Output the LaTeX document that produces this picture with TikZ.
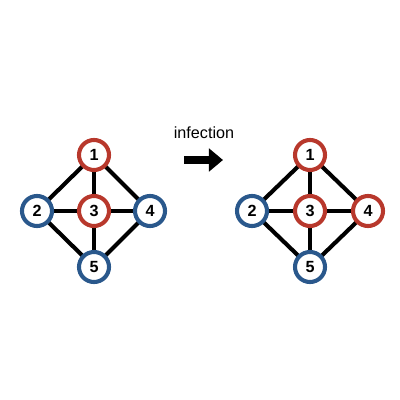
\documentclass[tikz,border=0pt]{standalone}
\usepackage{fontspec}
\setmainfont{Liberation Sans}
\usetikzlibrary{arrows.meta,backgrounds}
\definecolor{infred}{RGB}{184,56,44}
\definecolor{okblue}{RGB}{42,88,140}

\begin{document}
\begin{tikzpicture}[x=0.025cm, y=-0.025cm,
    vertex/.style={circle, draw, line width=2.9pt, fill=white, minimum size=0.75cm, inner sep=0pt, font=\fontsize{11.5}{12}\selectfont\bfseries},
    infected/.style={vertex, draw=infred},
    healthy/.style={vertex, draw=okblue},
    link/.style={line width=2.9pt, black}]
    \useasboundingbox (0,0) rectangle (400,400);
    % before
    \node[infected] (a1) at (94,155) {1};
    \node[healthy]  (a2) at (37,211) {2};
    \node[infected] (a3) at (94,211) {3};
    \node[healthy]  (a4) at (150,211) {4};
    \node[healthy]  (a5) at (94,267) {5};
    % after
    \node[infected] (b1) at (310,155) {1};
    \node[healthy]  (b2) at (252,211) {2};
    \node[infected] (b3) at (310,211) {3};
    \node[infected] (b4) at (368,211) {4};
    \node[healthy]  (b5) at (310,267) {5};
    \begin{scope}[on background layer]
    \foreach \g in {a,b} {
        \foreach \u/\v in {1/2,1/3,1/4,2/3,3/4,2/5,3/5,4/5}
            \draw[link] (\g\u.center) -- (\g\v.center);
    }
    \end{scope}
    % transition
    \node[font=\fontsize{11.5}{12}\selectfont] (lbl) at (204,133) {infection};
    \coordinate (s) at (184,160);
    \coordinate (t) at (223,160);
    \draw[line width=5pt, -{Triangle[length=10pt, width=16pt]}] (s) -- (t);
\end{tikzpicture}
\end{document}
